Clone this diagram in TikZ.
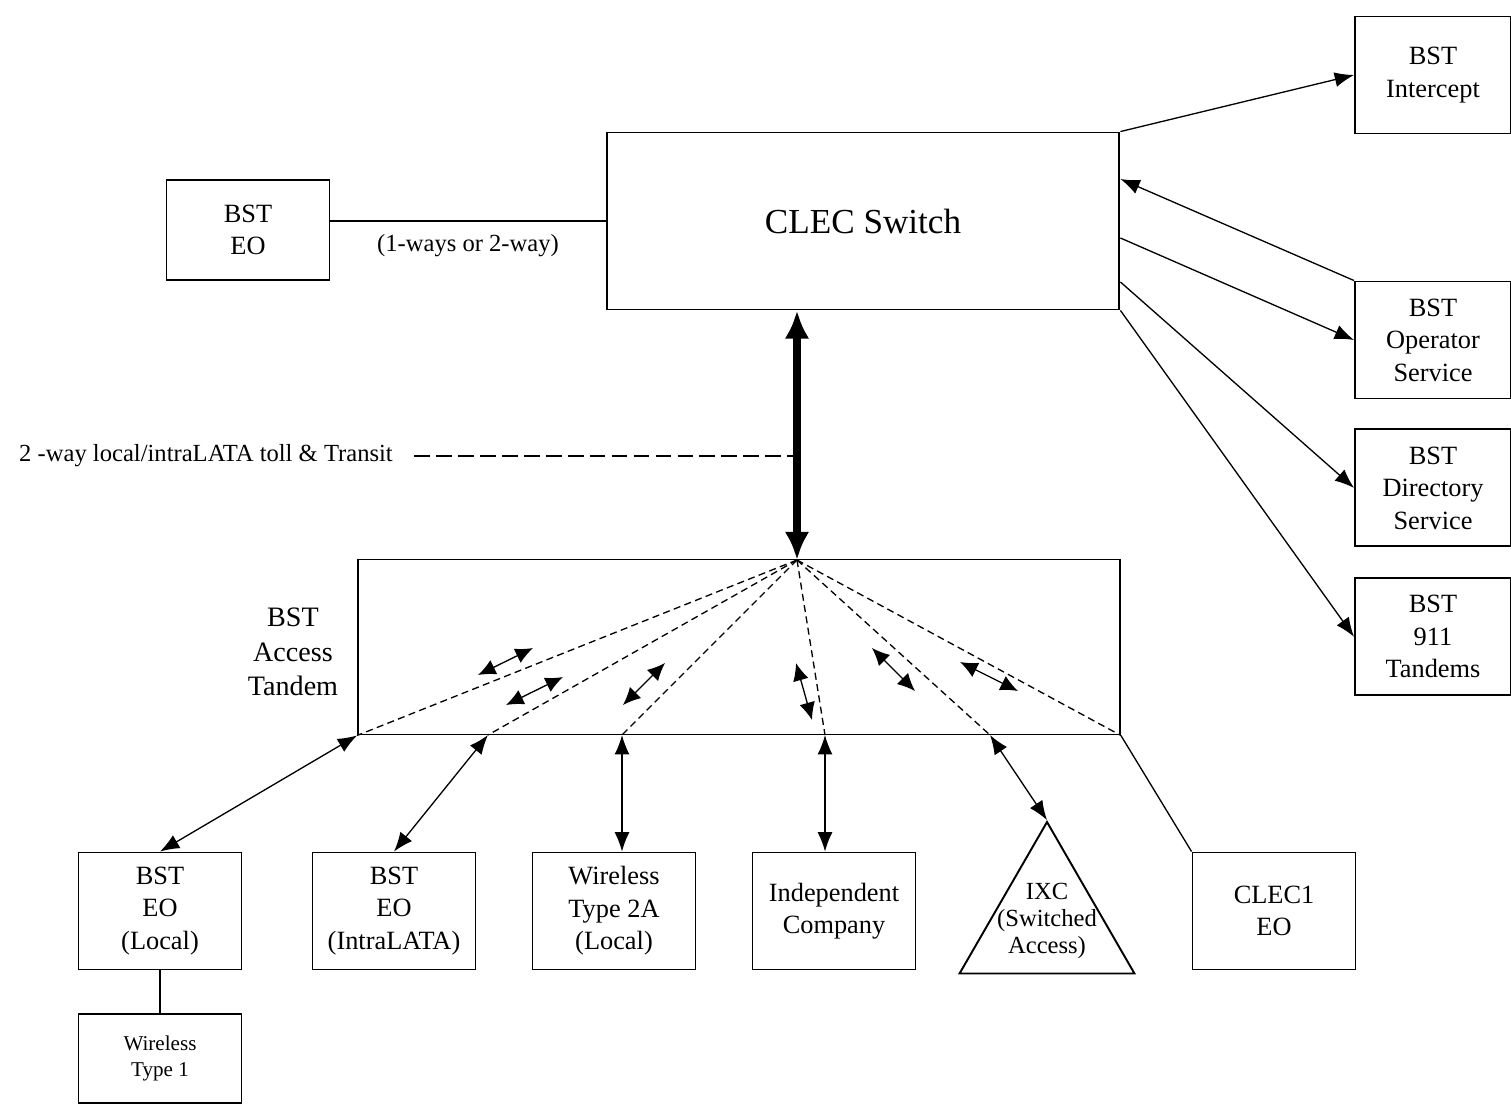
\documentclass[tikz,border=0pt]{standalone}
\usepackage{fontspec}
\setmainfont{Liberation Serif}
\usetikzlibrary{arrows.meta,shapes.geometric,positioning}

\begin{document}
\begin{tikzpicture}[x=0.02cm,y=-0.02cm,>={Latex[length=11pt,width=8.5pt]},
  box/.style={draw,line width=1.1pt,align=center,inner sep=0pt,
    font=\fontsize{15}{18.5}\selectfont},
  side/.style={box,minimum width=3.12cm,minimum height=2.34cm},
  low/.style={box,minimum width=3.26cm,minimum height=2.34cm},
  wire/.style={line width=0.75pt},
  fan/.style={wire,dash pattern=on 4pt off 2.5pt},
  mini/.style={wire,<->,>={Latex[length=10pt,width=9pt]}},
  note/.style={font=\fontsize{14}{16.5}\selectfont,align=center}]

\useasboundingbox (0,0) rectangle (1511,1103);

\node[box,minimum width=3.26cm,minimum height=2cm] (bsteo) at (248,230) {BST\\EO};
\node[box,minimum width=10.26cm,minimum height=3.54cm,
  font=\fontsize{20}{24}\selectfont] (clec) at (863,221) {CLEC Switch};
\node[side] (icpt) at (1433,75) {BST\\Intercept};
\node[side] (oper) at (1433,340) {BST\\Operator\\Service};
\node[side] (dir) [below=0.58cm of oper] {BST\\Directory\\Service};
\node[side] (t911) [below=0.6cm of dir] {BST\\911\\Tandems};

\node[box,minimum width=15.24cm,minimum height=3.5cm] (tandem) at (739,647) {};
\node[note,font=\fontsize{16}{19.5}\selectfont] (tlbl) at (293,652) {BST\\Access\\Tandem};
\node[note] (transit) at (206,456) {2 -way local/intraLATA toll \& Transit};

\node[low] (eoloc) at (160,911) {BST\\EO\\(Local)};
\node[low] (eointra) at (394,911) {BST\\EO\\(IntraLATA)};
\node[low] (wl2a) at (614,911) {Wireless\\Type 2A\\(Local)};
\node[low] (indep) at (834,911) {Independent\\Company};
\node[draw,line width=1.1pt,regular polygon,regular polygon sides=3,
  minimum size=4.04cm,inner sep=0pt] (ixc) at (1047,923) {};
\node[note,font=\fontsize{14}{15.5}\selectfont] (ixclbl) at ([yshift=0.04cm]ixc.center) {IXC\\(Switched\\Access)};
\node[low] (clec1) at (1274,911) {CLEC1\\EO};
\node[box,minimum width=3.26cm,minimum height=1.78cm,
  font=\fontsize{12}{14.8}\selectfont] (wl1) [below=0.86cm of eoloc] {Wireless\\Type 1};

\coordinate (apex) at (797,560);
\foreach \x/\n in {488/b2,622/b3,825/b4,990/b5}
  \coordinate (\n) at (\x,735);

\draw[wire] (bsteo.east |- clec.west) -- node[note,below=4pt] (oneway) {(1-ways or 2-way)} (clec.west);

\path[wire,->] (clec.north east) edge (icpt.west)
  (oper.north west) edge ([yshift=0.84cm]clec.east)
  ([yshift=-0.34cm]clec.east) edge (oper.west)
  ([yshift=-1.22cm]clec.east) edge (dir.west)
  (clec.south east) edge (t911.west);

\draw[<->,line width=4.5pt,>={Latex[length=16pt,width=14pt]}] (apex |- clec.south) -- (apex);
\coordinate (trunk) at (transit.east -| apex);
\draw[wire,dash pattern=on 9pt off 3.5pt] ([xshift=0.3cm]transit.east) -- (trunk);

\foreach \p in {tandem.south west,b2,b3,b4,b5,tandem.south east}
  \draw[fan] (apex) -- (\p);

\foreach \xa/\ya/\xb/\yb in {478/675/533/648,506/705/563/677,623/705/665/663,
  796/663/812/720,872/648/915/691,960/662/1018/691}
  \draw[mini] (\xa,\ya) -- (\xb,\yb);

\path[wire,<->] (tandem.south west) edge (eoloc.north)
  (b2) edge (eointra.north)
  (b3) edge (b3 |- wl2a.north)
  (b4) edge (b4 |- indep.north)
  (b5) edge (ixc.corner 1);
\draw[wire] (tandem.south east) -- (clec1.north west);
\draw[wire] (eoloc) -- (wl1);

\end{tikzpicture}
\end{document}
